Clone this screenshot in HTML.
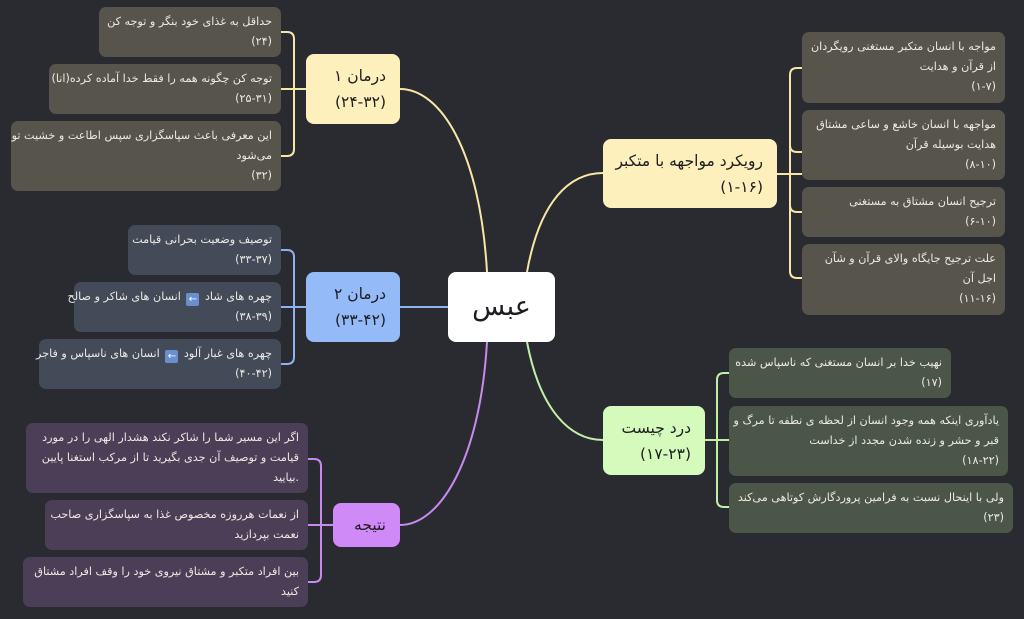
<!DOCTYPE html>
<html><head><meta charset="utf-8">
<style>
html,body{margin:0;padding:0;background:#2a2b30;}
body{width:1024px;height:619px;position:relative;overflow:hidden;font-family:"DejaVu Sans","Liberation Sans",sans-serif;}
.n{position:absolute;box-sizing:border-box;border-radius:7px;direction:rtl;text-align:right;color:#ece9e2;font-size:11.2px;line-height:20px;padding:5px 9px 0 6px;white-space:nowrap;letter-spacing:-0.2px;}
.y{background:#57544c;}
.b{background:#434a58;}
.g{background:#4c5648;}
.p{background:#4b3f58;}
.m{position:absolute;box-sizing:border-box;border-radius:8px;direction:rtl;text-align:right;color:#1e1e22;font-size:15.5px;line-height:26px;padding:9px 14px 0 8px;white-space:nowrap;}
.ar{display:inline-block;width:13px;height:13px;background:#6a8fd0;border-radius:2px;color:#fff;font-size:10px;line-height:13px;text-align:center;vertical-align:-2px;margin:0 2px;}
svg{position:absolute;left:0;top:0;}
</style></head><body>
<svg width="1024" height="619" fill="none" stroke-width="2">
<path d="M487 272 C 480 150, 440 89, 400 89" stroke="#f6e7a8"/>
<path d="M527 272 C 540 200, 570 173, 603 173" stroke="#f6e7a8"/>
<path d="M527 342 C 540 410, 570 440, 603 440" stroke="#c2efa8"/>
<path d="M487 342 C 480 460, 440 525, 400 525" stroke="#c88af0"/>
<path d="M448 307 L400 307" stroke="#8db2ee"/>
<path d="M777 174 H802 M802 68 H797 Q790 68 790 75 V271 Q790 278 797 278 H802 M790 145 Q790 152 797 152 H802 M790 205 Q790 212 797 212 H802" stroke="#f6e7a8"/>
<path d="M705 440 H729 M729 373 H724 Q717 373 717 380 V500 Q717 507 724 507 H729" stroke="#c2efa8"/>
<path d="M306 89 H281 M281 32 H287 Q294 32 294 39 V149 Q294 156 287 156 H281" stroke="#f6e7a8"/>
<path d="M306 307 H281 M281 250 H287 Q294 250 294 257 V357 Q294 364 287 364 H281" stroke="#8db2ee"/>
<path d="M333 525 H308 M308 459 H314 Q321 459 321 466 V575 Q321 582 314 582 H308" stroke="#c88af0"/>
</svg>

<div class="m" style="left:448px;top:272px;width:107px;height:70px;background:#fff;text-align:center;font-size:27px;line-height:70px;padding:0;">عبس</div>

<div class="m" style="left:603px;top:139px;width:174px;height:69px;background:#fdf0bc;">رویکرد مواجهه با متکبر<br>(۱-۱۶)</div>
<div class="n y" style="left:802px;top:32px;width:203px;height:71px;">مواجه با انسان متکبر مستغنی رویگردان<br>از قرآن و هدایت<br>(۱-۷)</div>
<div class="n y" style="left:802px;top:110px;width:203px;height:70px;">مواجهه با انسان خاشع و ساعی مشتاق<br>هدایت بوسیله قرآن<br>(۸-۱۰)</div>
<div class="n y" style="left:802px;top:187px;width:203px;height:50px;">ترجیح انسان مشتاق به مستغنی<br>(۶-۱۰)</div>
<div class="n y" style="left:802px;top:244px;width:203px;height:71px;">علت ترجیح جایگاه والای قرآن و شآن<br>اجل آن<br>(۱۱-۱۶)</div>

<div class="m" style="left:603px;top:406px;width:102px;height:69px;background:#d5fbbc;">درد چیست<br>(۱۷-۲۳)</div>
<div class="n g" style="left:729px;top:348px;width:222px;height:50px;">نهیب خدا بر انسان مستغنی که ناسپاس شده<br>(۱۷)</div>
<div class="n g" style="left:729px;top:406px;width:279px;height:70px;">یادآوری اینکه همه وجود انسان از لحظه ی نطفه تا مرگ و<br>قبر و حشر و زنده شدن مجدد از خداست<br>(۱۸-۲۲)</div>
<div class="n g" style="left:729px;top:483px;width:284px;height:50px;">ولی با اینحال نسبت به فرامین پروردگارش کوتاهی می‌کند<br>(۲۳)</div>

<div class="m" style="left:306px;top:54px;width:94px;height:70px;background:#fdf0bc;">درمان ۱<br>(۲۴-۳۲)</div>
<div class="n y" style="left:99px;top:7px;width:182px;height:50px;">حداقل به غذای خود بنگر و توجه کن<br>(۲۴)</div>
<div class="n y" style="left:49px;top:64px;width:232px;height:50px;">توجه کن چگونه همه را فقط خدا آماده کرده(انا)<br>(۲۵-۳۱)</div>
<div class="n y" style="left:11px;top:121px;width:270px;height:70px;">این معرفی باعث سپاسگزاری سپس اطاعت و خشیت تو<br>می‌شود<br>(۳۲)</div>

<div class="m" style="left:306px;top:272px;width:94px;height:70px;background:#94baf8;">درمان ۲<br>(۳۳-۴۲)</div>
<div class="n b" style="left:128px;top:225px;width:153px;height:50px;">توصیف وضعیت بحرانی قیامت<br>(۳۳-۳۷)</div>
<div class="n b" style="left:74px;top:282px;width:207px;height:50px;">چهره های شاد <span class="ar">&#8592;</span> انسان های شاکر و صالح<br>(۳۸-۳۹)</div>
<div class="n b" style="left:39px;top:339px;width:242px;height:50px;">چهره های غبار آلود <span class="ar">&#8592;</span> انسان های ناسپاس و فاجر<br>(۴۰-۴۲)</div>

<div class="m" style="left:333px;top:503px;width:67px;height:44px;background:#d08af8;padding-top:9px;padding-right:14px;">نتیجه</div>
<div class="n p" style="left:26px;top:423px;width:282px;height:70px;">اگر این مسیر شما را شاکر نکند هشدار الهی را در مورد<br>قیامت و توصیف آن جدی بگیرید تا از مرکب استغنا پایین<br>.بیایید</div>
<div class="n p" style="left:45px;top:500px;width:263px;height:50px;">از نعمات هرروزه مخصوص غذا به سپاسگزاری صاحب<br>نعمت بپردازید</div>
<div class="n p" style="left:23px;top:557px;width:285px;height:50px;">بین افراد متکبر و مشتاق نیروی خود را وقف افراد مشتاق<br>کنید</div>
</body></html>
